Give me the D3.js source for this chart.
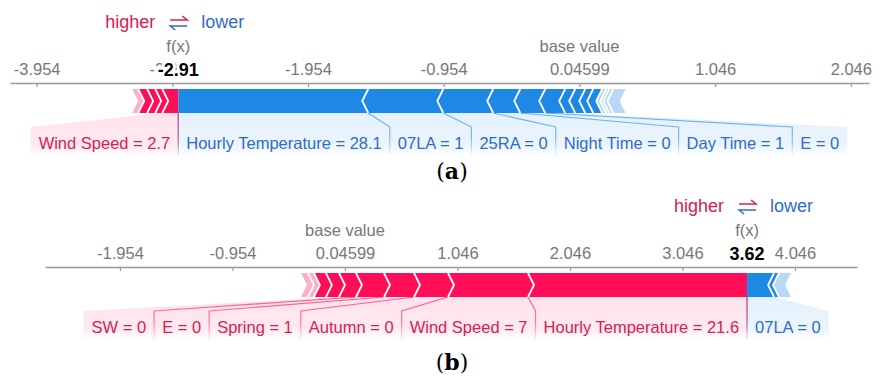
<!doctype html>
<html lang="en">

<head>
    <meta charset="utf-8">
    <title>SHAP force plots</title>
    <script src="https://d3js.org/d3.v7.min.js"></script>
    <style>
        body { margin: 0; background: #fff; }
        svg text { font-family: "Liberation Sans", Arial, sans-serif; }
    </style>
</head>

<body>
    <svg id="chart" width="883" height="376"></svg>

    <script>
        // (a)
        var ticksA = [-3.954, -2.954, -1.954, -0.954, 0.04599, 1.046, 2.046];
        var tickLabelsA = ["-3.954", "-2.954", "-1.954", "-0.954", "0.04599", "1.046", "2.046"];
        var domainA = [-4.15, 2.18];
        var baseA = 0.04599;
        var fxA = -2.91;
        var posNamesA = ["Wind Speed = 2.7", "", "", ""];
        var posValuesA = [0.118, 0.052, 0.059, 0.066];
        var posTailA = [0.044];
        var negNamesA = ["Hourly Temperature = 28.1", "07LA = 1", "25RA = 0", "Night Time = 0", "Day Time = 1", "E = 0", "", "", "", ""];
        var negValuesA = [1.40, 0.553, 0.368, 0.199, 0.184, 0.147, 0.074, 0.074, 0.059, 0.066];
        var negTailA = [0.03, 0.022, 0.03, 0.09];

        // (b)
        var ticksB = [-1.954, -0.954, 0.04599, 1.046, 2.046, 3.046, 4.046];
        var tickLabelsB = ["-1.954", "-0.954", "0.04599", "1.046", "2.046", "3.046", "4.046"];
        var domainB = [-2.62, 4.597];
        var baseB = 0.04599;
        var fxB = 3.62;
        var posNamesB = ["Hourly Temperature = 21.6", "Wind Speed = 7", "Autumn = 0", "Spring = 1", "E = 0", "SW = 0", "", ""];
        var posValuesB = [1.947, 0.711, 0.302, 0.267, 0.249, 0.151, 0.116, 0.107];
        var posTailB = [0.053, 0.062];
        var negNamesB = ["07LA = 0", ""];
        var negValuesB = [0.24, 0.044];
        var negTailB = [0.107];

        var red = "#ff0d57", blue = "#1e88e5";
        var redTail = "#ffafc5", blueTail = "#b9d8f6";
        var redText = "#d9204f", blueText = "#2e6cc8";

        var svg = d3.select("#chart");
        var defs = svg.append("defs");

        // gradients for the label backings and the connector lines
        [["red", red], ["blue", blue]].forEach(function (c) {
            var fill = defs.append("linearGradient").attr("id", "back-" + c[0])
                .attr("x1", 0).attr("y1", 0).attr("x2", 0).attr("y2", 1);
            fill.append("stop").attr("offset", "0%").attr("stop-color", c[1]).attr("stop-opacity", 0.12);
            fill.append("stop").attr("offset", "70%").attr("stop-color", c[1]).attr("stop-opacity", 0.09);
            fill.append("stop").attr("offset", "100%").attr("stop-color", c[1]).attr("stop-opacity", 0);

            var line = defs.append("linearGradient").attr("id", "line-" + c[0])
                .attr("gradientUnits", "userSpaceOnUse")
                .attr("x1", 0).attr("y1", 113).attr("x2", 0).attr("y2", 157);
            line.append("stop").attr("offset", "0%").attr("stop-color", c[1]).attr("stop-opacity", 0.65);
            line.append("stop").attr("offset", "60%").attr("stop-color", c[1]).attr("stop-opacity", 0.5);
            line.append("stop").attr("offset", "100%").attr("stop-color", c[1]).attr("stop-opacity", 0);
        });

        function forcePlot(p) {
            var g = svg.append("g").attr("transform", "translate(0," + p.top + ")");
            var x = d3.scaleLinear().domain(p.domain).range(p.range);

            var barTop = 89, barBot = 113, mid = 101, point = 6;
            var labTop = 127, labBot = 157, pad = 8;
            var fx = x(p.fx);

            // axis with the labels above the line
            var axis = d3.axisTop(x)
                .tickValues(p.ticks)
                .tickFormat(function (d, i) { return p.tickLabels[i]; })
                .tickSizeInner(-4)
                .tickSizeOuter(0)
                .tickPadding(8);

            var ax = g.append("g").attr("transform", "translate(0,83)").call(axis);
            ax.attr("font-family", null).attr("font-size", null);
            ax.select(".domain").attr("stroke", "#999").attr("stroke-width", 1.5);
            ax.selectAll(".tick line").attr("stroke", "#999").attr("stroke-width", 1.2);
            ax.selectAll(".tick text").attr("fill", "#777").style("font-size", "16.5px");

            // blocks
            var pos = p.posValues.map(function (v, i) { return { v: v, name: p.posNames[i], tail: false }; })
                .concat(p.posTail.map(function (v) { return { v: v, name: "", tail: true }; }));
            var neg = p.negValues.map(function (v, i) { return { v: v, name: p.negNames[i], tail: false }; })
                .concat(p.negTail.map(function (v) { return { v: v, name: "", tail: true }; }));

            var cum = p.fx;
            pos.forEach(function (d) { d.x1 = x(cum); cum -= d.v; d.x0 = x(cum); });
            cum = p.fx;
            neg.forEach(function (d) { d.x0 = x(cum); cum += d.v; d.x1 = x(cum); });

            // label boxes, laid out outward from f(x)
            var posLab = pos.filter(function (d) { return d.name; });
            var negLab = neg.filter(function (d) { return d.name; });

            var labels = g.append("g");
            function addText(d, color) {
                d.text = labels.append("text")
                    .attr("y", 149)
                    .attr("text-anchor", "middle")
                    .attr("fill", color)
                    .style("font-size", "16.5px")
                    .text(d.name);
                d.w = d.text.node().getComputedTextLength() + 2 * pad;
            }
            posLab.forEach(function (d) { addText(d, redText); });
            negLab.forEach(function (d) { addText(d, blueText); });

            var edge = fx;
            posLab.forEach(function (d) { d.l1 = edge; d.l0 = edge - d.w; edge = d.l0; });
            edge = fx;
            negLab.forEach(function (d) { d.l0 = edge; d.l1 = edge + d.w; edge = d.l1; });
            posLab.concat(negLab).forEach(function (d) { d.text.attr("x", (d.l0 + d.l1) / 2); });

            var backs = g.insert("g", ":first-child");
            backs.selectAll("path.neg").data(negLab).enter().append("path")
                .attr("fill", "url(#back-blue)")
                .attr("d", function (d) {
                    return "M" + d.x0 + "," + barBot + "L" + d.x1 + "," + barBot + "L" + d.l1 + "," + labTop +
                        "L" + d.l1 + "," + labBot + "L" + d.l0 + "," + labBot + "L" + d.l0 + "," + labTop + "Z";
                });
            backs.selectAll("path.pos").data(posLab).enter().append("path")
                .attr("fill", "url(#back-red)")
                .attr("d", function (d) {
                    return "M" + d.x0 + "," + barBot + "L" + d.x1 + "," + barBot + "L" + d.l1 + "," + labTop +
                        "L" + d.l1 + "," + labBot + "L" + d.l0 + "," + labBot + "L" + d.l0 + "," + labTop + "Z";
                });

            // connector lines
            g.selectAll("path.negline").data(negLab).enter().append("path")
                .attr("fill", "none").attr("stroke", "url(#line-blue)").attr("stroke-width", 1.2)
                .attr("d", function (d) {
                    return "M" + d.x0 + "," + barBot + "L" + d.l0 + "," + labTop + "L" + d.l0 + "," + labBot;
                });
            g.selectAll("path.posline").data(posLab).enter().append("path")
                .attr("fill", "none").attr("stroke", "url(#line-red)").attr("stroke-width", 1.2)
                .attr("d", function (d) {
                    return "M" + d.x1 + "," + barBot + "L" + d.l1 + "," + labTop + "L" + d.l1 + "," + labBot;
                });

            // bar
            var bar = g.append("g");
            bar.selectAll("path.pos").data(pos).enter().append("path")
                .attr("fill", function (d) { return d.tail ? redTail : red; })
                .attr("d", function (d, i) {
                    var pr = i === 0 ? 0 : point;
                    return "M" + d.x0 + "," + barTop + "L" + d.x1 + "," + barTop + "L" + (d.x1 + pr) + "," + mid +
                        "L" + d.x1 + "," + barBot + "L" + d.x0 + "," + barBot + "L" + (d.x0 + point) + "," + mid + "Z";
                });
            bar.selectAll("path.neg").data(neg).enter().append("path")
                .attr("fill", function (d) { return d.tail ? blueTail : blue; })
                .attr("d", function (d, i) {
                    var pl = i === 0 ? 0 : point;
                    return "M" + d.x0 + "," + barTop + "L" + d.x1 + "," + barTop + "L" + (d.x1 - point) + "," + mid +
                        "L" + d.x1 + "," + barBot + "L" + d.x0 + "," + barBot + "L" + (d.x0 - pl) + "," + mid + "Z";
                });

            // white chevrons between blocks
            bar.selectAll("path.psep").data(pos.slice(1)).enter().append("path")
                .attr("fill", "none").attr("stroke", "#fff").attr("stroke-width", 1.8)
                .attr("d", function (d) {
                    return "M" + d.x1 + "," + barTop + "L" + (d.x1 + point) + "," + mid + "L" + d.x1 + "," + barBot;
                });
            bar.selectAll("path.nsep").data(neg.slice(1)).enter().append("path")
                .attr("fill", "none").attr("stroke", "#fff").attr("stroke-width", 1.8)
                .attr("d", function (d) {
                    return "M" + d.x0 + "," + barTop + "L" + (d.x0 - point) + "," + mid + "L" + d.x0 + "," + barBot;
                });

            // f(x) and base value
            g.append("text").attr("x", fx).attr("y", 52).attr("text-anchor", "middle")
                .attr("fill", "#777").style("font-size", "16.5px").text("f(x)");
            g.append("text").attr("x", x(p.base)).attr("y", 52).attr("text-anchor", "middle")
                .attr("fill", "#777").style("font-size", "16.5px").text("base value");

            g.append("text").attr("x", fx).attr("y", 76).attr("text-anchor", "middle")
                .attr("font-weight", "bold").style("font-size", "18px")
                .attr("stroke", "#fff").attr("stroke-width", 6).attr("fill", "#fff")
                .text(p.fxLabel);
            g.append("text").attr("x", fx).attr("y", 76).attr("text-anchor", "middle")
                .attr("font-weight", "bold").style("font-size", "18px")
                .attr("fill", "#000")
                .text(p.fxLabel);

            // higher / lower legend
            g.append("text").attr("x", fx - 23).attr("y", 28).attr("text-anchor", "end")
                .attr("fill", redText).style("font-size", "18px").text("higher");
            g.append("text").attr("x", fx + 23).attr("y", 28)
                .attr("fill", blueText).style("font-size", "18px").text("lower");
            g.append("path").attr("fill", "none").attr("stroke", redText).attr("stroke-width", 1.5)
                .attr("d", "M" + (fx - 8) + ",20H" + (fx + 9) + "l-5,-4");
            g.append("path").attr("fill", "none").attr("stroke", blueText).attr("stroke-width", 1.5)
                .attr("d", "M" + (fx + 9) + ",26H" + (fx - 8) + "l5,4");

            // caption
            var cap = g.append("text").attr("x", 452).attr("y", p.captionY).attr("text-anchor", "middle")
                .attr("fill", "#000").style("font-family", "'DejaVu Serif', serif").style("font-size", "22px");
            cap.append("tspan").text("(");
            cap.append("tspan").attr("font-weight", "bold").text(p.caption);
            cap.append("tspan").text(")");
        }

        forcePlot({
            top: 0, range: [10, 869], domain: domainA, ticks: ticksA, tickLabels: tickLabelsA,
            base: baseA, fx: fxA, fxLabel: "-2.91",
            posNames: posNamesA, posValues: posValuesA, posTail: posTailA,
            negNames: negNamesA, negValues: negValuesA, negTail: negTailA,
            caption: "a", captionY: 179
        });

        forcePlot({
            top: 184, range: [45, 857], domain: domainB, ticks: ticksB, tickLabels: tickLabelsB,
            base: baseB, fx: fxB, fxLabel: "3.62",
            posNames: posNamesB, posValues: posValuesB, posTail: posTailB,
            negNames: negNamesB, negValues: negValuesB, negTail: negTailB,
            caption: "b", captionY: 186
        });
    </script>

</body>

</html>
